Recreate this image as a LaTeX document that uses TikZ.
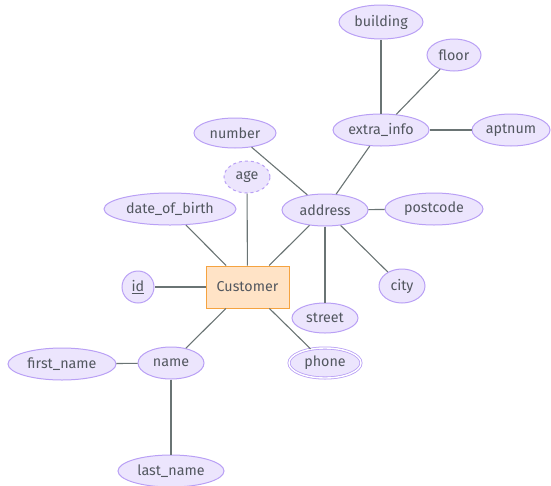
\documentclass[tikz,border=0pt]{standalone}
\usepackage{fontspec}
\setmainfont{Fira Sans}
\usetikzlibrary{shapes.geometric}
\definecolor{attrfill}{HTML}{ECE5FD}
\definecolor{attrline}{HTML}{B9A0F5}
\definecolor{entfill}{HTML}{FFE3C6}
\definecolor{entline}{HTML}{F5A340}
\definecolor{txtc}{HTML}{52575F}
\definecolor{linkc}{HTML}{6A7474}
\tikzset{
  attr/.style={ellipse,draw=attrline,fill=attrfill,line width=1pt,inner sep=0pt,minimum height=32pt,text=txtc},
  ent/.style={rectangle,draw=entline,fill=entfill,line width=1pt,minimum width=83pt,minimum height=42pt,text=txtc},
  derived/.style={attr,dashed},
  multi/.style={attr,double=white,double distance=1.4pt,line width=0.8pt},
  link/.style={draw=linkc,line width=1.1pt}
}
\begin{document}
\begin{tikzpicture}[x=1pt,y=-1pt,font=\fontsize{14.3}{16}\selectfont]
                \useasboundingbox (0,0) rectangle (551,485);
                \node[ent] (cust) at (247.5,287) {Customer};
                \node[attr,minimum width=32pt] (id) at (138,287) {\underline{id}};
                \node[attr,minimum width=132pt] (dob) at (170,209) {date\_of\_birth};
                \node[derived,minimum width=46pt] (age) at (247,177) {age};
                \node[attr,minimum width=86pt] (addr) at (325,210) {address};
                \node[attr,minimum width=82pt,minimum height=30pt] (num) at (235,133) {number};
                \node[attr,minimum width=98pt] (post) at (434,209) {postcode};
                \node[attr,minimum width=46pt,minimum height=34pt] (city) at (402,286) {city};
                \node[attr,minimum width=66pt,minimum height=30pt] (street) at (325,318) {street};
                \node[attr,minimum width=96pt] (extra) at (381,130) {extra\_info};
                \node[attr,minimum width=84pt,minimum height=34pt] (bldg) at (381,22) {building};
                \node[attr,minimum width=54pt] (floor) at (454,55) {floor};
                \node[attr,minimum width=78pt] (apt) at (511,130) {aptnum};
                \node[attr,minimum width=66pt] (name) at (171,363) {name};
                \node[attr,minimum width=108pt] (first) at (62,364) {first\_name};
                \node[attr,minimum width=106pt] (last) at (171,471) {last\_name};
                \node[multi,minimum width=72pt,minimum height=30pt] (phone) at (325,363) {phone};
                \draw[link] (cust) -- (id);
                \draw[link] (cust) -- (dob);
                \draw[link] (cust) -- (age);
                \draw[link] (cust) -- (addr);
                \draw[link] (cust) -- (name);
                \draw[link] (cust) -- (phone);
                \draw[link] (addr) -- (num);
                \draw[link] (addr) -- (extra);
                \draw[link] (addr) -- (post);
                \draw[link] (addr) -- (city);
                \draw[link] (addr) -- (street);
                \draw[link] (extra) -- (bldg);
                \draw[link] (extra) -- (floor);
                \draw[link] (extra) -- (apt);
                \draw[link] (name) -- (first);
                \draw[link] (name) -- (last);
            \end{tikzpicture}
\end{document}
